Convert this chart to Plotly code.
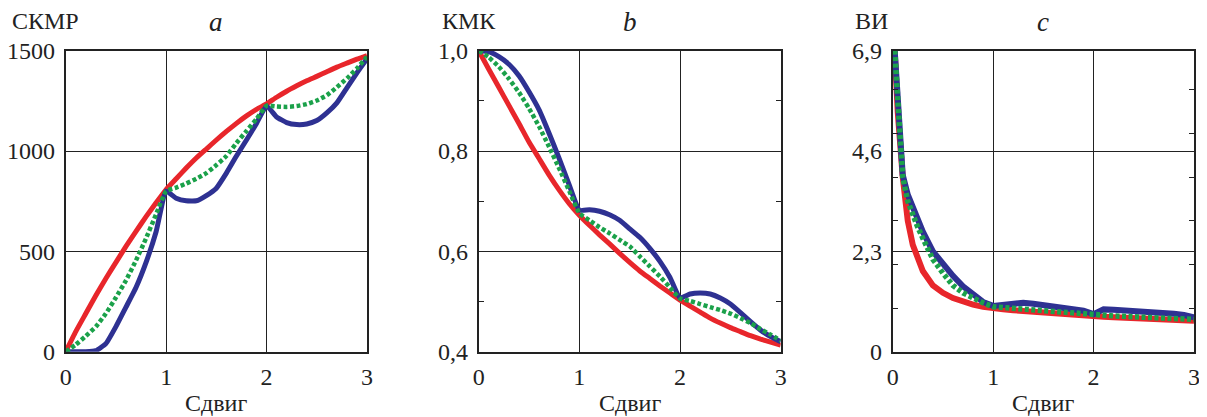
import plotly.graph_objects as go
from plotly.subplots import make_subplots

# ---------------- data ----------------
x_ab = [round(i * 0.1, 1) for i in range(31)]

# panel a: СКМР
skmr_red = [0, 100, 190, 280, 365, 445, 525, 600, 673, 742, 808,
            862, 915, 965, 1010, 1055, 1098, 1138, 1175, 1208, 1235,
            1268, 1298, 1325, 1350, 1372, 1395, 1418, 1438, 1458, 1476]
skmr_blue = [0, 0, 0, 5, 40, 125, 222, 320, 445, 598, 800,
             765, 752, 752, 778, 815, 890, 975, 1055, 1138, 1225,
             1170, 1142, 1132, 1135, 1152, 1190, 1240, 1315, 1390, 1460]
skmr_green = [0, 35, 78, 125, 190, 270, 355, 455, 565, 685, 800,
              818, 838, 862, 890, 930, 975, 1040, 1100, 1160, 1226,
              1222, 1220, 1224, 1234, 1252, 1278, 1318, 1362, 1412, 1470]

# panel b: КМК
kmk_red = [1.0, 0.963, 0.927, 0.891, 0.855, 0.818, 0.785, 0.752, 0.722, 0.695, 0.672,
           0.652, 0.633, 0.615, 0.596, 0.578, 0.561, 0.546, 0.531, 0.517, 0.503,
           0.491, 0.479, 0.467, 0.457, 0.448, 0.440, 0.432, 0.425, 0.419, 0.413]
kmk_blue = [1.0, 0.998, 0.988, 0.973, 0.950, 0.918, 0.882, 0.835, 0.785, 0.732, 0.682,
            0.683, 0.680, 0.673, 0.662, 0.645, 0.628, 0.606, 0.580, 0.548, 0.507,
            0.515, 0.517, 0.515, 0.507, 0.495, 0.478, 0.460, 0.443, 0.430, 0.420]
kmk_green = [1.0, 0.987, 0.968, 0.944, 0.917, 0.885, 0.849, 0.808, 0.765, 0.720, 0.676,
             0.662, 0.648, 0.636, 0.623, 0.610, 0.590, 0.570, 0.550, 0.528, 0.506,
             0.501, 0.495, 0.489, 0.483, 0.476, 0.467, 0.457, 0.445, 0.434, 0.422]

# panel c: ВИ
x_c = [0.02, 0.05, 0.1, 0.15, 0.2, 0.25, 0.3, 0.4, 0.5, 0.6, 0.7, 0.8, 0.9, 1.0,
       1.1, 1.2, 1.3, 1.4, 1.5, 1.6, 1.7, 1.8, 1.9, 2.0,
       2.1, 2.2, 2.3, 2.4, 2.5, 2.6, 2.7, 2.8, 2.9, 3.0]
vi_red = [6.9, 5.5, 4.0, 3.0, 2.45, 2.1, 1.85, 1.52, 1.35, 1.23, 1.15, 1.08, 1.03, 0.99,
          0.97, 0.95, 0.93, 0.91, 0.89, 0.87, 0.85, 0.84, 0.82, 0.81,
          0.80, 0.79, 0.78, 0.77, 0.76, 0.75, 0.74, 0.73, 0.72, 0.71]
vi_blue = [6.9, 5.6, 4.05, 3.6, 3.3, 3.0, 2.75, 2.3, 2.0, 1.74, 1.5, 1.3, 1.14, 1.05,
           1.07, 1.10, 1.12, 1.10, 1.07, 1.04, 1.00, 0.97, 0.94, 0.86,
           0.97, 0.96, 0.95, 0.94, 0.93, 0.91, 0.89, 0.87, 0.84, 0.79]
vi_green = [6.9, 5.6, 4.0, 3.45, 3.1, 2.85, 2.6, 2.12, 1.8, 1.52, 1.35, 1.22, 1.12, 1.03,
            1.01, 0.99, 0.97, 0.95, 0.93, 0.91, 0.89, 0.87, 0.855, 0.84,
            0.83, 0.82, 0.81, 0.80, 0.79, 0.78, 0.77, 0.76, 0.75, 0.74]

x_ticks = [0, 1, 2, 3]
a_ticks = [0, 500, 1000, 1500]
a_labels = ["0", "500", "1000", "1500"]
b_ticks = [0.4, 0.6, 0.8, 1.0]
b_labels = ["0,4", "0,6", "0,8", "1,0"]
c_ticks = [0, 2.3, 4.6, 6.9]
c_labels = ["0", "2,3", "4,6", "6,9"]

y_names = ["СКМР", "КМК", "ВИ"]
panel_letters = ["a", "b", "c"]
x_title = "Сдвиг"

# ---------------- style ----------------
RED = "#e8262b"
BLUE = "#2e3192"
GREEN = "#1ba14a"
FONT = "Times New Roman"
W, H = 1207, 417
OFF = 8  # page body margin offset

fig = make_subplots(rows=1, cols=3)

panels = [
    (x_ab, skmr_red, skmr_blue, skmr_green),
    (x_ab, kmk_red, kmk_blue, kmk_green),
    (x_c, vi_red, vi_blue, vi_green),
]
lw = [5, 5, 6]
shapes_ = ["spline", "spline", "linear"]
for i, (xs, r, b, g) in enumerate(panels):
    extra = dict(shape=shapes_[i])
    if shapes_[i] == "spline":
        extra["smoothing"] = 0.4
    fig.add_trace(go.Scatter(x=xs, y=r, mode="lines",
                             line=dict(color=RED, width=lw[i], **extra)),
                  row=1, col=i + 1)
    fig.add_trace(go.Scatter(x=xs, y=b, mode="lines",
                             line=dict(color=BLUE, width=lw[i], **extra)),
                  row=1, col=i + 1)
    fig.add_trace(go.Scatter(x=xs, y=g, mode="lines",
                             line=dict(color=GREEN, width=lw[i] - 0.5, dash="4px,2.5px", **extra)),
                  row=1, col=i + 1)

def px(v):
    return (v - OFF) / W

def py(v):
    return 1 - (v - OFF) / H

x_dom = [(65.7, 367.0), (478.7, 780.7), (892.7, 1194.0)]
y_top, y_bot = 50.7, 351.7
ydom = [py(y_bot), py(y_top)]

yranges = [[0, 1500], [0.4, 1.0], [0, 6.9]]
yticks = [(a_ticks, a_labels), (b_ticks, b_labels), (c_ticks, c_labels)]
minor = [None, dict(tick0=0.4, dtick=0.1), dict(tick0=0, dtick=1)]

axis_common = dict(
    showline=True, linecolor="#222", linewidth=1.6, mirror=True,
    showgrid=True, gridcolor="#222", gridwidth=1.4, zeroline=False,
    automargin=False,
    tickfont=dict(family=FONT, size=24, color="#222"),
)

for i in range(3):
    xa = "xaxis" if i == 0 else f"xaxis{i+1}"
    ya = "yaxis" if i == 0 else f"yaxis{i+1}"
    fig.layout[xa].update(
        domain=[px(x_dom[i][0]), px(x_dom[i][1])], range=[0, 3],
        tickvals=x_ticks, ticktext=[str(t) for t in x_ticks], ticks="",
        ticklabelstandoff=3, **axis_common)
    yupd = dict(domain=ydom, range=yranges[i], tickvals=yticks[i][0],
                ticktext=yticks[i][1], ticklabelstandoff=4, **axis_common)
    if minor[i] is not None:
        yupd.update(ticks="inside", ticklen=5, tickcolor="#222", tickwidth=1.2,
                    mirror="ticks",
                    minor=dict(ticks="inside", ticklen=5, tickcolor="#222", tickwidth=1.2,
                               tick0=minor[i]["tick0"], dtick=minor[i]["dtick"], showgrid=False))
    else:
        yupd.update(ticks="")
    fig.layout[ya].update(**yupd)

annotations = []
name_x = [10, 440, 853]
for i in range(3):
    annotations.append(dict(text=y_names[i], x=px(name_x[i]), y=py(21),
                            xref="paper", yref="paper", xanchor="left", yanchor="middle",
                            showarrow=False, font=dict(family=FONT, size=24, color="#222")))
    cx = (x_dom[i][0] + x_dom[i][1]) / 2
    annotations.append(dict(text=f"<i>{panel_letters[i]}</i>", x=px(cx), y=py(22),
                            xref="paper", yref="paper", xanchor="center", yanchor="middle",
                            showarrow=False, font=dict(family=FONT, size=27, color="#222")))
    annotations.append(dict(text=x_title, x=px(cx), y=py(403),
                            xref="paper", yref="paper", xanchor="center", yanchor="middle",
                            showarrow=False, font=dict(family=FONT, size=24, color="#222")))

fig.update_layout(
    width=W, height=H, autosize=False,
    margin=dict(l=0, r=0, t=0, b=0, pad=0, autoexpand=False),
    paper_bgcolor="white", plot_bgcolor="white",
    showlegend=False,
    font=dict(family=FONT, color="#222"),
    annotations=annotations,
)

fig.write_html("out.html")
